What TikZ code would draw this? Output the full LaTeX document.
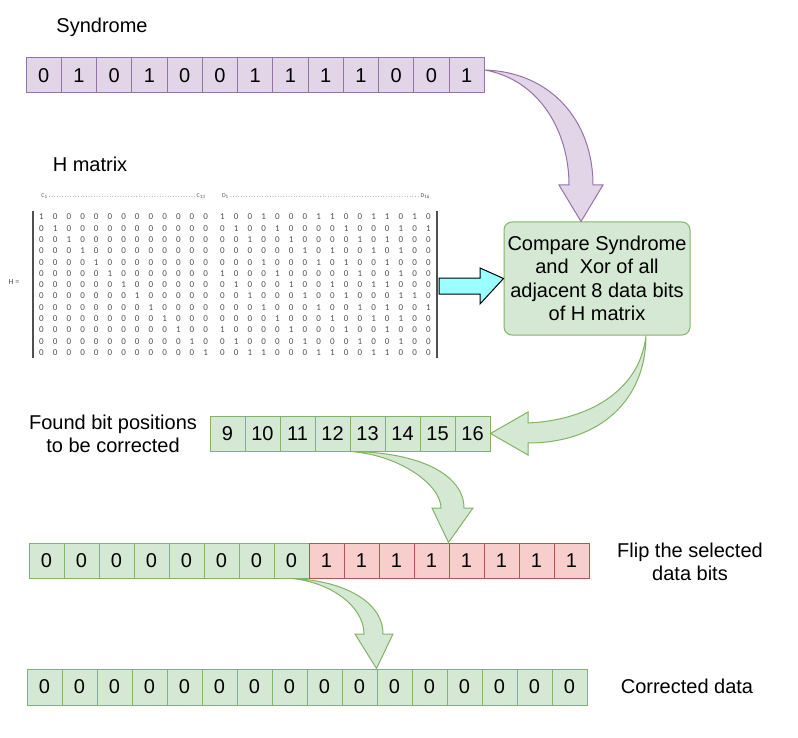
\documentclass[tikz,border=0pt]{standalone}
\usepackage{fontspec}
\setmainfont{Liberation Sans}
\newfontfamily\matfont{Carlito}
\definecolor{synfill}{HTML}{E1D5E7}
\definecolor{synline}{HTML}{9673A6}
\definecolor{grnfill}{HTML}{D5E8D4}
\definecolor{grnline}{HTML}{82B366}
\definecolor{redfill}{HTML}{F8CECC}
\definecolor{redline}{HTML}{B85450}
\definecolor{cyanfill}{HTML}{99FFFF}
\definecolor{matgray}{HTML}{505050}
\begin{document}
\begin{tikzpicture}[x=1pt,y=-1pt,
  bitcell/.style={draw, line width=1pt, minimum height=35pt, inner sep=0pt, font=\fontsize{20}{20}\selectfont},
  synbit/.style={fill=synfill, draw=synline},
  grnbit/.style={fill=grnfill, draw=grnline},
  redbit/.style={fill=redfill, draw=redline},
  label/.style={font=\fontsize{20}{23.5}\selectfont, align=center, inner sep=0pt},
  matbit/.style={font=\matfont\fontsize{9}{9}\selectfont, text=matgray, inner sep=0pt},
  bendarrow/.style={line width=1pt}]
\useasboundingbox (0,0) rectangle (798,738);

% Syndrome
\node[label] (synlbl) at (102,27) {Syndrome};
\foreach \b [count=\i] in {0,1,0,1,0,0,1,1,1,1,0,0,1}
  \node[bitcell, synbit, minimum width=35.25pt] (s\i) at ({26+35.25*(\i-0.5)},75.5) {\b};

% H matrix
\node[label] (hlbl) at (90,164) {H matrix};
\node[matbit, font=\matfont\fontsize{6}{6}\selectfont] (ctop) at (123.5,196) {\makebox[164pt]{C\textsubscript{1}\dotfill C\textsubscript{13}}};
\node[matbit, font=\matfont\fontsize{6}{6}\selectfont] (dtop) at (326,196) {\makebox[208pt]{D\textsubscript{1}\dotfill D\textsubscript{16}}};
\node[matbit, font=\matfont\fontsize{8}{8}\selectfont] (heq) at (14,282) {H =};
\foreach \r in {1,...,13}
  \foreach \c in {1,...,13}
    \node[matbit] (c-\r-\c) at ({41.5+13.68*(\c-1)},{217+11.3*(\r-1)}) {\ifnum\r=\c\relax 1\else 0\fi};
\foreach \row [count=\r] in {
  {1,0,0,1,0,0,0,1,1,0,0,1,1,0,1,0},
  {0,1,0,0,1,0,0,0,0,1,0,0,0,1,0,1},
  {0,0,1,0,0,1,0,0,0,0,1,0,1,0,0,0},
  {0,0,0,0,0,0,1,0,1,0,0,1,0,1,0,0},
  {0,0,0,1,0,0,0,1,0,1,0,0,1,0,0,0},
  {1,0,0,0,1,0,0,0,0,0,1,0,0,1,0,0},
  {0,1,0,0,0,1,0,0,1,0,0,1,1,0,0,0},
  {0,0,1,0,0,0,1,0,0,1,0,0,0,1,1,0},
  {0,0,0,1,0,0,0,1,0,0,1,0,1,0,0,1},
  {0,0,0,0,1,0,0,0,1,0,0,1,0,1,0,0},
  {1,0,0,0,0,1,0,0,0,1,0,0,1,0,0,0},
  {0,1,0,0,0,0,1,0,0,0,1,0,0,1,0,0},
  {0,0,1,1,0,0,0,1,1,0,0,1,1,0,0,0}}
  \foreach \b [count=\c] in \row
    \node[matbit] (d-\r-\c) at ({222.5+13.73*(\c-1)},{217+11.3*(\r-1)}) {\b};
\draw[matgray, line width=1.3pt] (33,211) -- (33,358);
\draw[matgray, line width=1.3pt] (437,211) -- (437,358);

% Compare box
\node[draw=grnline, fill=grnfill, line width=1pt, rounded corners=8pt, minimum width=186pt, minimum height=113pt, label] (cmp) at (597,278.5)
  {Compare Syndrome\\and~ Xor of all\\adjacent 8 data bits\\of H matrix};

% Matrix into box
\draw[fill=cyanfill, line width=1pt] (439,278) -- (480,278) -- (480,268) -- (cmp.west) -- (480,304) -- (480,294) -- (439,294) -- cycle;

% Syndrome into box
\draw[bendarrow, fill=synfill, draw=synline] (s13.east |- 0,70) .. controls (550,72) and (593,120) .. (593,185)
  -- (603,185) -- (cmp.north -| 581,0) -- (559,185) -- (569,185)
  .. controls (569,132) and (540,80) .. (s13.east |- 0,70) -- cycle;

% Found bit positions
\node[label] (foundlbl) at (113,434) {Found bit positions\\to be corrected};
\foreach \b [count=\i] in {9,...,16}
  \node[bitcell, grnbit, minimum width=35pt] (f\i) at ({210+35*(\i-0.5)},433.5) {\b};

% Box into found positions
\draw[bendarrow, fill=grnfill, draw=grnline] (cmp.south -| 646,0) .. controls (646,400) and (600,443) .. (528,443)
  -- (528,455) -- (f8.east) -- (528,412) -- (528,423)
  .. controls (590,420) and (640,390) .. (cmp.south -| 646,0) -- cycle;

% Flip the selected data bits
\foreach \b [count=\i] in {0,0,0,0,0,0,0,0}
  \node[bitcell, grnbit, minimum width=35pt] (p\i) at ({29+35*(\i-0.5)},560.5) {\b};
\foreach \b [count=\i from 9] in {1,1,1,1,1,1,1,1}
  \node[bitcell, redbit, minimum width=35pt] (p\i) at ({29+35*(\i-0.5)},560.5) {\b};
\node[label] (fliplbl) at (690,562) {Flip the selected\\data bits};

% Found positions into flip row
\draw[bendarrow, fill=grnfill, draw=grnline] (f4.south east) .. controls (420,452) and (464,475) .. (464,508)
  -- (473,508) -- (p13.north west) -- (432,508) -- (441,508)
  .. controls (441,485) and (400,455) .. (f4.south east) -- cycle;

% Corrected data
\foreach \i in {1,...,16}
  \node[bitcell, grnbit, minimum width=35pt, minimum height=36pt] (k\i) at ({27+35*(\i-0.5)},687) {0};
\node[label] (corrlbl) at (687,686) {Corrected data};

% Flip row into corrected data
\draw[bendarrow, fill=grnfill, draw=grnline] (p8.south) .. controls (340,580) and (383,600) .. (383,634)
  -- (393,634) -- (k11.north west) -- (355,634) -- (364,634)
  .. controls (364,606) and (330,582) .. (p8.south) -- cycle;

\end{tikzpicture}
\end{document}
